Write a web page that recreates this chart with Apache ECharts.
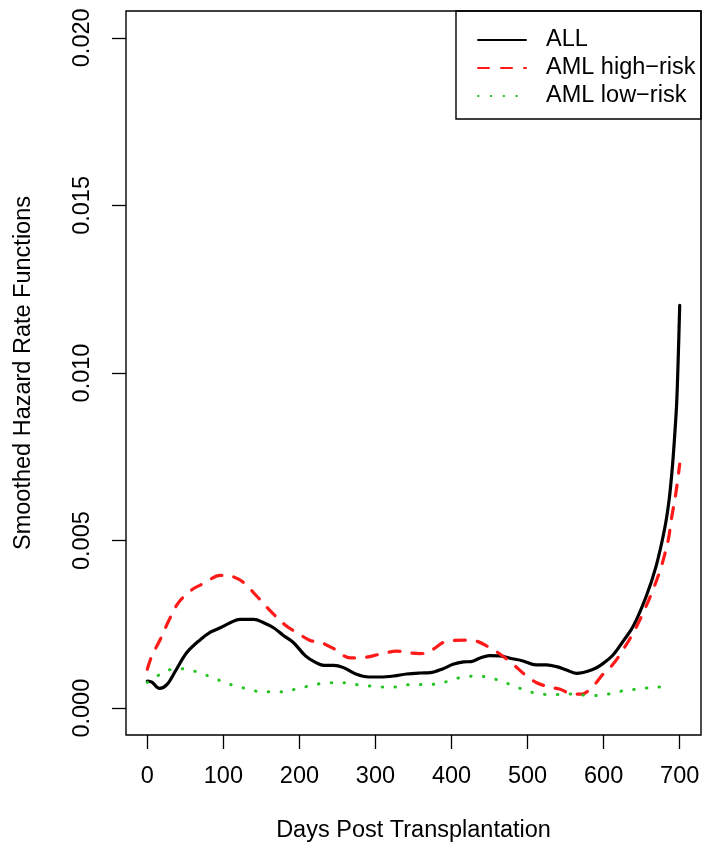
<!DOCTYPE html>
<html>
<head>
<meta charset="utf-8">
<script src="https://cdn.jsdelivr.net/npm/echarts@6/dist/echarts.min.js"></script>
<style>
html,body{margin:0;padding:0;background:#fff;}
#chart{width:705px;height:852px;}
</style>
</head>
<body>
<div id="chart"></div>
<script>
// ---- data ----
const seriesNames = ['ALL', 'AML high\u2212risk', 'AML low\u2212risk'];
const xTicks = [0, 100, 200, 300, 400, 500, 600, 700];
const yTicks = [0, 0.005, 0.010, 0.015, 0.020];
const yTickLabels = ['0.000', '0.005', '0.010', '0.015', '0.020'];
const xTitle = 'Days Post Transplantation';
const yTitle = 'Smoothed Hazard Rate Functions';

const allDays = [0, 6, 16, 26, 37, 52, 70, 83, 96, 109, 122, 140, 153, 166, 179, 192, 208, 220, 232, 245, 258, 275, 291, 306, 324, 341, 359, 372, 389, 402, 416, 426, 437, 450, 464, 477, 494, 511, 525, 538, 551, 564, 586, 599, 612, 625, 639, 656, 669, 680, 686, 690, 693, 696, 698, 700];
const allVals = [0.00081, 0.00078, 0.00059, 0.00071, 0.00111, 0.00166, 0.00205, 0.00227, 0.0024, 0.00255, 0.00265, 0.00265, 0.00255, 0.0024, 0.00217, 0.00196, 0.00156, 0.00138, 0.00128, 0.00128, 0.00121, 0.00101, 0.00093, 0.00093, 0.00096, 0.00102, 0.00105, 0.00106, 0.00118, 0.00131, 0.00138, 0.00139, 0.00149, 0.00157, 0.00156, 0.00149, 0.00141, 0.00129, 0.00129, 0.00124, 0.00114, 0.00104, 0.00116, 0.00133, 0.00158, 0.00198, 0.00245, 0.00334, 0.00424, 0.00533, 0.0062, 0.0071, 0.008, 0.0091, 0.0104, 0.01202];

const highDays = [0, 6, 17, 28, 41, 59, 74, 96, 113, 127, 144, 164, 183, 197, 214, 227, 245, 267, 284, 306, 328, 345, 358, 367, 376, 394, 420, 433, 450, 464, 481, 496, 512, 529, 542, 560, 571, 586, 599, 612, 626, 639, 652, 665, 676, 685, 689, 695, 700];
const highVals = [0.00116, 0.00156, 0.00205, 0.0026, 0.00315, 0.00354, 0.00372, 0.00396, 0.00392, 0.00374, 0.00334, 0.00285, 0.00245, 0.00225, 0.00202, 0.00197, 0.00178, 0.0015, 0.00151, 0.00161, 0.0017, 0.00165, 0.00163, 0.00164, 0.00176, 0.002, 0.00203, 0.002, 0.00181, 0.00161, 0.00131, 0.00101, 0.00076, 0.00063, 0.00057, 0.00042, 0.00042, 0.00066, 0.00101, 0.0013, 0.00176, 0.00225, 0.00285, 0.00354, 0.00424, 0.00503, 0.00563, 0.00642, 0.00728];

const lowDays = [0, 13, 27, 42, 58, 74, 89, 103, 119, 134, 150, 166, 182, 197, 213, 229, 245, 260, 276, 292, 308, 323, 339, 355, 372, 387, 402, 418, 434, 450, 465, 480, 495, 510, 526, 542, 558, 574, 590, 606, 621, 637, 653, 669, 688];
const lowVals = [0.00077, 0.00096, 0.00113, 0.00118, 0.00113, 0.00101, 0.00089, 0.00075, 0.00065, 0.00056, 0.00049, 0.00049, 0.00049, 0.00059, 0.00066, 0.00074, 0.00076, 0.00076, 0.0007, 0.00066, 0.00063, 0.00063, 0.00069, 0.00071, 0.00071, 0.00075, 0.00086, 0.00094, 0.00096, 0.00091, 0.00081, 0.00068, 0.00055, 0.00045, 0.00041, 0.00041, 0.00042, 0.00039, 0.00038, 0.00042, 0.0005, 0.00055, 0.00059, 0.00063, 0.00063];

// ---- chart ----
const FONT = '"Liberation Sans", Arial, Helvetica, sans-serif';
const FS = 23.5;
const pair = (xs, ys) => xs.map((x, i) => [x, ys[i]]);

const chart = echarts.init(document.getElementById('chart'), null, {renderer: 'canvas', width: 705, height: 852});
chart.setOption({
  backgroundColor: '#ffffff',
  animation: false,
  textStyle: {fontFamily: FONT},
  grid: {left: 126, right: 4, top: 11, bottom: 117, show: true, borderColor: '#000', borderWidth: 1.4, backgroundColor: 'transparent'},
  xAxis: {
    type: 'value', min: -28, max: 728,
    name: xTitle, nameLocation: 'middle', nameGap: 84,
    nameTextStyle: {fontSize: FS, color: '#000', fontFamily: FONT},
    axisLine: {show: false, onZero: false},
    splitLine: {show: false},
    axisTick: {show: true, length: 14, inside: false, customValues: xTicks, lineStyle: {color: '#000', width: 1.3}},
    axisLabel: {show: true, customValues: xTicks, margin: 30, fontSize: FS, color: '#000', fontFamily: FONT}
  },
  yAxis: {
    type: 'value', min: -0.0008, max: 0.0208,
    name: yTitle, nameLocation: 'middle', nameGap: 90, nameRotate: 90,
    nameTextStyle: {fontSize: FS, color: '#000', fontFamily: FONT},
    axisLine: {show: false, onZero: false},
    splitLine: {show: false},
    axisTick: {show: true, length: 14, inside: false, customValues: yTicks, lineStyle: {color: '#000', width: 1.3}},
    axisLabel: {show: true, customValues: yTicks, rotate: 90, margin: 31, fontSize: FS, color: '#000', fontFamily: FONT,
      formatter: v => { const i = yTicks.findIndex(t => Math.abs(t - v) < 1e-9); return i >= 0 ? yTickLabels[i] : ''; }}
  },
  legend: {
    orient: 'vertical', left: 477, top: 28, padding: 0, itemGap: 4,
    itemWidth: 48, itemHeight: 14,
    data: seriesNames,
    itemStyle: {color: 'transparent', borderColor: 'transparent', borderWidth: 0, opacity: 0},
    textStyle: {fontSize: FS, color: '#000', fontFamily: FONT, lineHeight: 23, padding: [0, 0, 0, 15]}
  },
  graphic: [{
    type: 'rect', silent: true, z: 100,
    shape: {x: 456, y: 11, width: 245, height: 108},
    style: {fill: 'none', stroke: '#000', lineWidth: 1.4}
  }],
  series: [
    {name: seriesNames[0], type: 'line', data: pair(allDays, allVals), symbol: 'none', smooth: 0.35,
      lineStyle: {color: '#000', width: 3.2, type: 'solid', cap: 'round'}, itemStyle: {color: '#000'}},
    {name: seriesNames[1], type: 'line', data: pair(highDays, highVals), symbol: 'none', smooth: 0.35,
      lineStyle: {color: '#ff1a1a', width: 3.2, type: [11, 12], cap: 'round'}, itemStyle: {color: '#ff1a1a'}},
    {name: seriesNames[2], type: 'line', data: pair(lowDays, lowVals), symbol: 'none', smooth: 0.35,
      lineStyle: {color: '#22c322', width: 3, type: [0.5, 12.3], cap: 'round'}, itemStyle: {color: '#22c322'}}
  ]
});
</script>
</body>
</html>
